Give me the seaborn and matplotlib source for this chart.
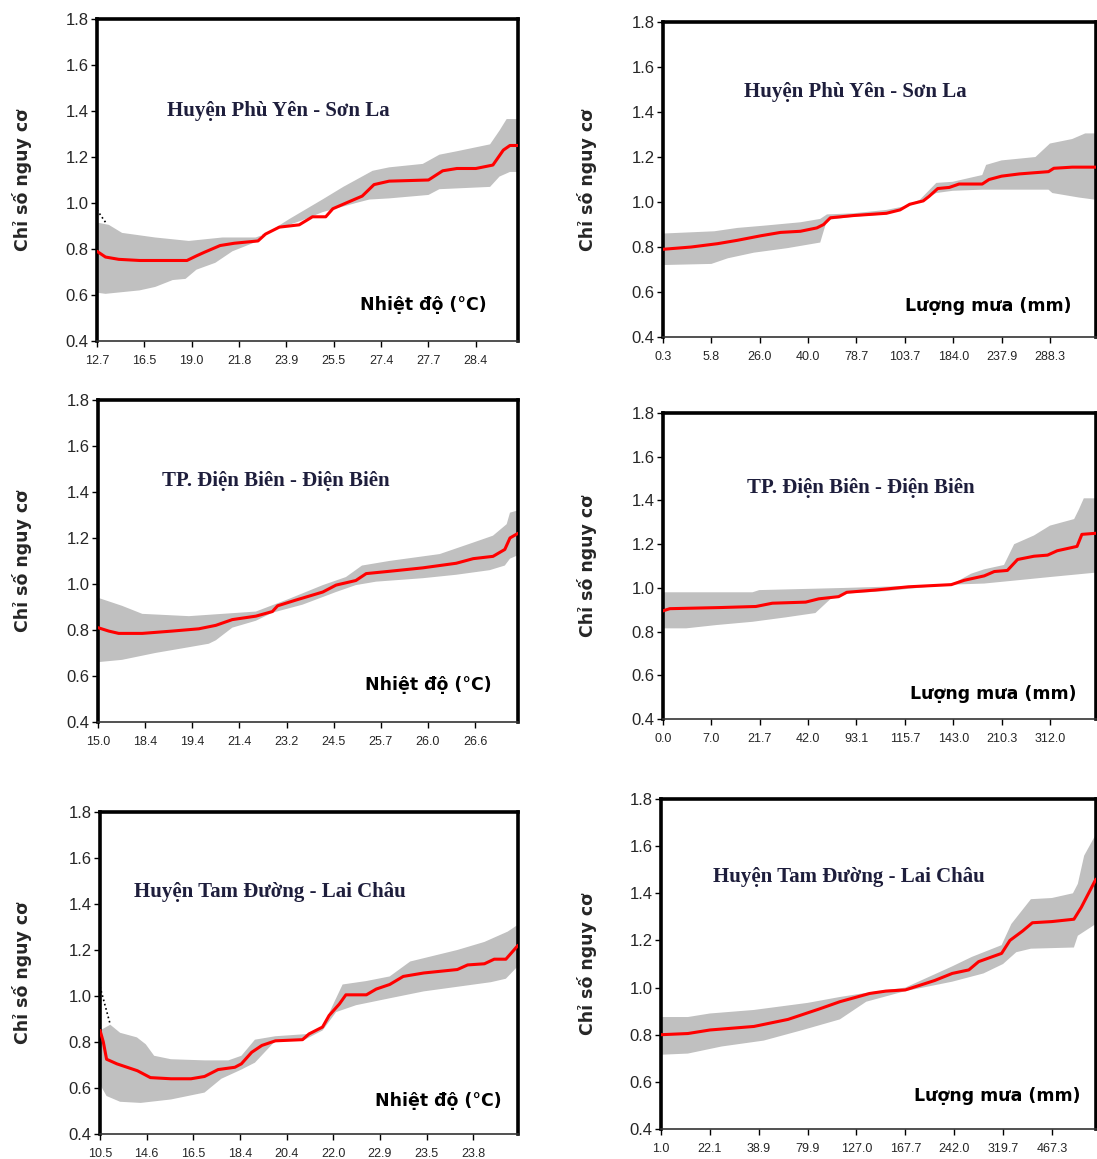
import numpy as np
import matplotlib
matplotlib.use('Agg')
import matplotlib.pyplot as plt
import seaborn as sns

# --- Huyện Phù Yên - Sơn La : nhiệt độ ---
py_t_ticks = ['12.7', '16.5', '19.0', '21.8', '23.9', '25.5', '27.4', '27.7', '28.4']
py_t_x = [0, 0.18, 0.46, 0.9, 1.9, 2.1, 2.26, 2.6, 2.9, 3.4, 3.56, 3.85, 4.27, 4.55, 4.83, 4.98,
          5.26, 5.6, 5.85, 6.17, 7.0, 7.3, 7.6, 8.0, 8.36, 8.58, 8.72, 8.89]
py_t_mean = [0.79, 0.765, 0.755, 0.75, 0.75, 0.77, 0.785, 0.815, 0.825, 0.835, 0.865, 0.895, 0.905,
             0.94, 0.94, 0.975, 1.0, 1.03, 1.08, 1.095, 1.10, 1.14, 1.15, 1.15, 1.165, 1.23, 1.25, 1.25]
py_t_hi_x = [0, 0.25, 0.53, 1.23, 1.94, 2.65, 3.35, 3.56, 4.06, 4.76, 5.2, 5.82, 6.17, 6.88, 7.23,
             7.6, 8.3, 8.5, 8.65, 8.89]
py_t_hi = [0.915, 0.905, 0.87, 0.85, 0.835, 0.85, 0.85, 0.865, 0.93, 1.015, 1.07, 1.14, 1.155, 1.17,
           1.21, 1.225, 1.255, 1.315, 1.365, 1.365]
py_t_lo_x = [0, 0.18, 0.9, 1.23, 1.6, 1.87, 2.1, 2.5, 2.86, 3.35, 3.5, 4.34, 4.76, 5.47, 5.75, 6.17,
             7.0, 7.23, 8.3, 8.5, 8.72, 8.89]
py_t_lo = [0.61, 0.605, 0.62, 0.635, 0.665, 0.67, 0.71, 0.74, 0.79, 0.83, 0.865, 0.925, 0.96, 1.0,
           1.015, 1.02, 1.035, 1.06, 1.07, 1.115, 1.135, 1.135]
py_t_dot_x = [0, 0.2]
py_t_dot = [0.97, 0.91]

# --- Huyện Phù Yên - Sơn La : lượng mưa ---
py_r_ticks = ['0.3', '5.8', '26.0', '40.0', '78.7', '103.7', '184.0', '237.9', '288.3']
py_r_x = [0, 0.58, 1.13, 1.54, 2.02, 2.43, 2.84, 3.18, 3.32, 3.46, 3.94, 4.62, 4.9, 5.1, 5.38, 5.5,
          5.68, 5.92, 6.12, 6.6, 6.74, 7.0, 7.37, 7.97, 8.08, 8.46, 8.95]
py_r_mean = [0.79, 0.80, 0.815, 0.83, 0.85, 0.865, 0.87, 0.885, 0.90, 0.93, 0.94, 0.95, 0.965, 0.99,
             1.005, 1.025, 1.06, 1.065, 1.08, 1.08, 1.10, 1.115, 1.125, 1.135, 1.15, 1.155, 1.155]
py_r_hi_x = [0, 1.06, 1.54, 2.09, 2.84, 3.25, 3.39, 3.94, 4.62, 4.97, 5.31, 5.65, 5.99, 6.6, 6.68,
             7.0, 7.7, 8.0, 8.46, 8.73, 8.95]
py_r_hi = [0.86, 0.87, 0.885, 0.895, 0.91, 0.925, 0.945, 0.95, 0.965, 0.98, 1.01, 1.085, 1.09, 1.12,
           1.165, 1.185, 1.20, 1.26, 1.28, 1.305, 1.305]
py_r_lo_x = [0, 1.0, 1.34, 1.88, 2.57, 3.25, 3.39, 3.94, 4.62, 5.31, 5.65, 5.99, 6.6, 7.97, 8.05,
             8.6, 8.95]
py_r_lo = [0.72, 0.725, 0.75, 0.775, 0.795, 0.82, 0.92, 0.935, 0.945, 1.0, 1.04, 1.05, 1.055, 1.055,
           1.04, 1.02, 1.01]

# --- TP. Điện Biên - Điện Biên : nhiệt độ ---
db_t_ticks = ['15.0', '18.4', '19.4', '21.4', '23.2', '24.5', '25.7', '26.0', '26.6']
db_t_x = [0, 0.23, 0.44, 0.94, 1.57, 2.14, 2.5, 2.85, 3.35, 3.7, 3.81, 4.2, 4.77, 5.05, 5.47, 5.69,
          6.18, 6.89, 7.6, 7.96, 8.38, 8.63, 8.74, 8.91]
db_t_mean = [0.81, 0.795, 0.785, 0.785, 0.795, 0.805, 0.82, 0.845, 0.86, 0.88, 0.905, 0.93, 0.965,
             0.995, 1.015, 1.045, 1.055, 1.07, 1.09, 1.11, 1.12, 1.15, 1.2, 1.22]
db_t_hi_x = [0, 0.51, 0.94, 1.93, 2.64, 3.35, 4.05, 4.77, 5.26, 5.6, 6.18, 7.25, 7.96, 8.38, 8.67,
             8.74, 8.91]
db_t_hi = [0.94, 0.905, 0.87, 0.86, 0.87, 0.88, 0.935, 0.995, 1.03, 1.08, 1.10, 1.13, 1.18, 1.21,
           1.26, 1.31, 1.32]
db_t_lo_x = [0, 0.51, 1.22, 1.93, 2.35, 2.5, 2.85, 3.35, 3.7, 4.34, 5.05, 5.47, 5.9, 6.89, 7.6, 8.31,
             8.63, 8.74, 8.91]
db_t_lo = [0.66, 0.67, 0.70, 0.725, 0.74, 0.755, 0.81, 0.84, 0.875, 0.91, 0.965, 0.995, 1.01, 1.025,
           1.04, 1.06, 1.08, 1.11, 1.125]

# --- TP. Điện Biên - Điện Biên : lượng mưa ---
db_r_ticks = ['0.0', '7.0', '21.7', '42.0', '93.1', '115.7', '143.0', '210.3', '312.0']
db_r_x = [0, 0.14, 1.16, 1.92, 2.26, 2.95, 3.22, 3.63, 3.8, 4.38, 5.07, 5.96, 6.23, 6.64, 6.85, 7.12,
          7.33, 7.67, 7.95, 8.15, 8.56, 8.66, 8.95]
db_r_mean = [0.895, 0.905, 0.91, 0.915, 0.93, 0.935, 0.95, 0.96, 0.98, 0.99, 1.005, 1.015, 1.035,
             1.055, 1.075, 1.08, 1.13, 1.145, 1.15, 1.17, 1.19, 1.245, 1.25]
db_r_hi_x = [0, 1.85, 1.99, 3.77, 5.96, 6.37, 6.64, 7.05, 7.26, 7.67, 8.0, 8.5, 8.6, 8.7, 8.95]
db_r_hi = [0.98, 0.98, 0.99, 1.0, 1.015, 1.065, 1.085, 1.105, 1.20, 1.24, 1.285, 1.315, 1.36, 1.41, 1.41]
db_r_lo_x = [0, 0.48, 1.1, 1.85, 2.53, 3.15, 3.49, 3.84, 4.59, 5.27, 5.96, 6.64, 7.33, 8.01, 8.95]
db_r_lo = [0.815, 0.815, 0.83, 0.845, 0.865, 0.885, 0.955, 0.975, 0.985, 1.0, 1.015, 1.02, 1.035,
           1.05, 1.07]

# --- Huyện Tam Đường - Lai Châu : nhiệt độ ---
td_t_ticks = ['10.5', '14.6', '16.5', '18.4', '20.4', '22.0', '22.9', '23.5', '23.8']
td_t_x = [0, 0.07, 0.14, 0.36, 0.58, 0.8, 0.94, 1.08, 1.52, 1.95, 2.24, 2.53, 2.89, 3.03, 3.25, 3.47,
          3.76, 4.34, 4.48, 4.77, 4.91, 5.13, 5.27, 5.71, 5.92, 6.21, 6.5, 6.94, 7.66, 7.88, 8.24,
          8.45, 8.7, 8.96]
td_t_mean = [0.85, 0.80, 0.725, 0.705, 0.69, 0.675, 0.66, 0.645, 0.64, 0.64, 0.65, 0.68, 0.69, 0.705,
             0.755, 0.785, 0.805, 0.81, 0.835, 0.865, 0.915, 0.965, 1.005, 1.005, 1.03, 1.05, 1.085,
             1.10, 1.115, 1.135, 1.14, 1.16, 1.16, 1.22]
td_t_hi_x = [0, 0.22, 0.43, 0.79, 0.98, 1.16, 1.52, 2.24, 2.75, 3.03, 3.32, 3.76, 4.48, 4.77, 5.2,
             5.71, 6.21, 6.65, 7.66, 8.24, 8.74, 8.96]
td_t_hi = [0.85, 0.875, 0.84, 0.82, 0.79, 0.74, 0.725, 0.72, 0.72, 0.74, 0.81, 0.825, 0.835, 0.865,
           1.05, 1.065, 1.085, 1.15, 1.20, 1.235, 1.28, 1.31]
td_t_lo_x = [0, 0.14, 0.43, 0.87, 1.52, 2.24, 2.6, 3.03, 3.32, 3.76, 4.34, 4.77, 5.06, 5.49, 6.21,
             6.94, 7.66, 8.38, 8.7, 8.96]
td_t_lo = [0.615, 0.565, 0.54, 0.535, 0.55, 0.58, 0.64, 0.68, 0.71, 0.805, 0.805, 0.85, 0.93, 0.96,
           0.99, 1.02, 1.04, 1.06, 1.075, 1.13]
td_t_dot_x = [0, 0.22]
td_t_dot = [1.04, 0.875]

# --- Huyện Tam Đường - Lai Châu : lượng mưa ---
td_r_ticks = ['1.0', '22.1', '38.9', '79.9', '127.0', '167.7', '242.0', '319.7', '467.3']
td_r_x = [0, 0.55, 1.0, 1.9, 2.6, 3.25, 3.66, 4.27, 4.6, 5.0, 5.6, 5.96, 6.3, 6.5, 6.97, 7.14, 7.4,
          7.6, 8.0, 8.45, 8.6, 8.9]
td_r_mean = [0.80, 0.805, 0.82, 0.835, 0.865, 0.91, 0.94, 0.975, 0.985, 0.99, 1.03, 1.06, 1.075,
             1.11, 1.145, 1.2, 1.24, 1.275, 1.28, 1.29, 1.34, 1.46]
td_r_hi_x = [0, 0.55, 1.0, 1.9, 3.0, 3.66, 4.27, 5.0, 5.96, 6.36, 6.97, 7.17, 7.57, 8.0, 8.43, 8.53,
             8.66, 8.9]
td_r_hi = [0.875, 0.875, 0.89, 0.905, 0.935, 0.96, 0.98, 1.0, 1.09, 1.13, 1.18, 1.27, 1.375, 1.38,
           1.40, 1.44, 1.56, 1.65]
td_r_lo_x = [0, 0.55, 1.24, 2.1, 2.9, 3.66, 4.2, 5.0, 5.96, 6.6, 7.0, 7.27, 7.57, 8.45, 8.53, 8.9]
td_r_lo = [0.715, 0.72, 0.75, 0.775, 0.82, 0.865, 0.94, 0.985, 1.025, 1.06, 1.10, 1.15, 1.165, 1.17,
           1.22, 1.27]

titles = ['Huyện Phù Yên - Sơn La', 'Huyện Phù Yên - Sơn La',
          'TP. Điện Biên - Điện Biên', 'TP. Điện Biên - Điện Biên',
          'Huyện Tam Đường - Lai Châu', 'Huyện Tam Đường - Lai Châu']
xlab_t = 'Nhiệt độ (°C)'
xlab_r = 'Lượng mưa (mm)'
ylab = 'Chỉ số nguy cơ'

sns.set_style('white')
plt.rcParams['font.family'] = ['Liberation Sans', 'DejaVu Sans']

fig = plt.figure(figsize=(10.97, 11.59), dpi=100)

# vị trí các ô (figure fraction)
pos = [[0.0884, 0.7058, 0.3838, 0.2778], [0.6044, 0.7092, 0.3946, 0.2718],
       [0.0893, 0.3771, 0.3829, 0.2778], [0.6044, 0.3796, 0.3946, 0.2640],
       [0.0912, 0.0216, 0.3810, 0.2778], [0.6026, 0.0259, 0.3964, 0.2847]]
title_xy = [(0.43, 0.714), (0.444, 0.778), (0.424, 0.748), (0.456, 0.755), (0.407, 0.752), (0.433, 0.764)]
xlab_xy = [(0.774, 0.112), (0.752, 0.10), (0.786, 0.115), (0.764, 0.082), (0.809, 0.102), (0.773, 0.10)]

panels = [
    (py_t_x, py_t_mean, py_t_hi_x, py_t_hi, py_t_lo_x, py_t_lo, py_t_ticks, xlab_t, (py_t_dot_x, py_t_dot)),
    (py_r_x, py_r_mean, py_r_hi_x, py_r_hi, py_r_lo_x, py_r_lo, py_r_ticks, xlab_r, None),
    (db_t_x, db_t_mean, db_t_hi_x, db_t_hi, db_t_lo_x, db_t_lo, db_t_ticks, xlab_t, None),
    (db_r_x, db_r_mean, db_r_hi_x, db_r_hi, db_r_lo_x, db_r_lo, db_r_ticks, xlab_r, None),
    (td_t_x, td_t_mean, td_t_hi_x, td_t_hi, td_t_lo_x, td_t_lo, td_t_ticks, xlab_t, (td_t_dot_x, td_t_dot)),
    (td_r_x, td_r_mean, td_r_hi_x, td_r_hi, td_r_lo_x, td_r_lo, td_r_ticks, xlab_r, None),
]

for i, (mx, my, hx, hy, lx, ly, ticks, xlab, dot) in enumerate(panels):
    ax = fig.add_axes(pos[i])
    # dải tin cậy
    ax.fill(np.r_[hx, lx[::-1]], np.r_[hy, ly[::-1]], color='#c0c0c0', lw=0, zorder=1)
    if dot is not None:
        ax.plot(dot[0], dot[1], color='black', ls=':', lw=1.2, zorder=2)
    sns.lineplot(x=mx, y=my, ax=ax, color='#ff0000', lw=2.2, zorder=3)

    ax.set_xlim(0, mx[-1])
    ax.set_ylim(0.4, 1.8)
    ax.set_yticks(np.arange(0.4, 1.81, 0.2))
    ax.set_yticklabels([f'{v:.1f}' for v in np.arange(0.4, 1.81, 0.2)], fontsize=12)
    ax.set_xticks(range(len(ticks)))
    ax.set_xticklabels(ticks, fontsize=9)
    ax.tick_params(axis='both', direction='out', length=4, width=1, color='black', pad=2,
                   bottom=True, left=True)
    ax.tick_params(axis='x', pad=6)
    for s in ['left', 'top', 'right']:
        ax.spines[s].set_linewidth(2.6)
        ax.spines[s].set_color('black')
    ax.spines['bottom'].set_linewidth(1.2)
    ax.spines['bottom'].set_color('#333333')

    ax.text(title_xy[i][0], title_xy[i][1], titles[i], transform=ax.transAxes, ha='center', va='center',
            fontsize=15, fontweight='bold', color='#1e1e3c', family=['Liberation Serif', 'DejaVu Serif'])
    ax.text(xlab_xy[i][0], xlab_xy[i][1], xlab, transform=ax.transAxes, ha='center', va='center',
            fontsize=12.5, fontweight='bold', color='black', family=['DejaVu Sans'])

    # nhãn trục tung
    lx_fig = 0.020 if i % 2 == 0 else 0.535
    fig.text(lx_fig, pos[i][1] + pos[i][3] * 0.5, ylab, rotation=90, ha='center', va='center',
             fontsize=12.5, fontweight='bold', family=['DejaVu Sans'])

fig.savefig('out.png', dpi=100, facecolor='white')
